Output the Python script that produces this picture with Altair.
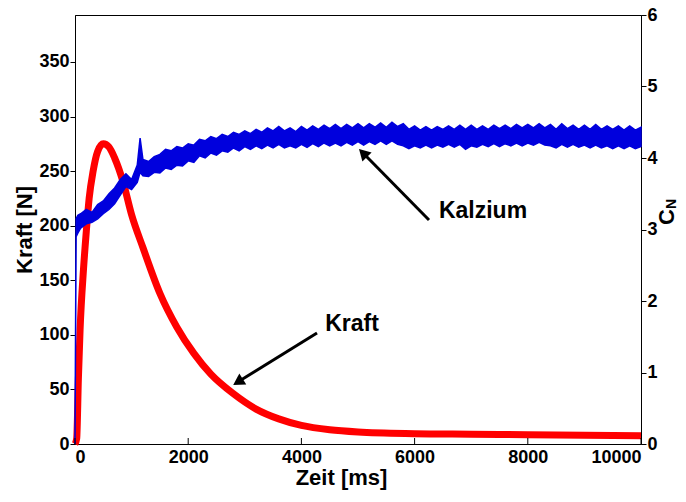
import altair as alt
import pandas as pd

# Kraft (left axis, N)
red_t = [0, 30, 60, 90, 150, 200, 250, 320, 400, 500, 600, 700, 850, 1000, 1200,
         1500, 1800, 2100, 2400, 2800, 3200, 3600, 4000, 4500, 5000, 6000, 7000,
         8000, 9000, 10000]
red_f = [0, 5, 60, 105, 160, 195, 225, 250, 268, 275, 272, 262, 240, 210, 180,
         138, 107, 83, 64, 46, 32, 23, 17, 13, 11, 9.5, 9, 8.5, 8, 7.5]

# Kalzium (right axis, C_N) as a band: lower / upper edge
blue_t = [0, 20, 50, 100, 200, 300, 400, 500, 600, 700, 800, 900, 1000, 1100, 1150,
          1200, 1300, 1400, 1500, 1600, 1700, 1800, 1900, 2000, 2100, 2200, 2300,
          2400, 2500, 2600, 2700, 2800, 2900, 3000, 3100, 3200, 3300, 3400, 3500,
          3600, 3700, 3800, 3900, 4000, 4100, 4200, 4300, 4400, 4500, 4600, 4700,
          4800, 4900, 5000, 5100, 5200, 5300, 5400, 5500, 5600, 5700, 5800, 5900,
          6000, 6100, 6200, 6300, 6400, 6500, 6600, 6700, 6800, 6900, 7000, 7100,
          7200, 7300, 7400, 7500, 7600, 7700, 7800, 7900, 8000, 8100, 8200, 8300,
          8400, 8500, 8600, 8700, 8800, 8900, 9000, 9100, 9200, 9300, 9400, 9500,
          9600, 9700, 9800, 9900, 10000]
blue_lo = [0.00, 2.90, 2.95, 3.02, 3.08, 3.10, 3.15, 3.22, 3.28, 3.36, 3.48, 3.60, 3.56, 3.66, 3.80,
           3.75, 3.74, 3.80, 3.79, 3.86, 3.84, 3.90, 3.89, 3.96, 3.94, 4.03, 4.00,
           4.07, 4.04, 4.10, 4.08, 4.14, 4.10, 4.16, 4.12, 4.17, 4.13, 4.18, 4.14,
           4.19, 4.14, 4.17, 4.14, 4.19, 4.15, 4.20, 4.16, 4.21, 4.17, 4.21, 4.17,
           4.22, 4.18, 4.23, 4.18, 4.23, 4.19, 4.24, 4.19, 4.24, 4.19, 4.17, 4.13,
           4.17, 4.14, 4.18, 4.14, 4.18, 4.15, 4.19, 4.15, 4.19, 4.12, 4.17, 4.15,
           4.19, 4.16, 4.20, 4.16, 4.20, 4.17, 4.21, 4.17, 4.21, 4.18, 4.22, 4.18,
           4.17, 4.14, 4.19, 4.15, 4.19, 4.15, 4.18, 4.14, 4.18, 4.14, 4.17, 4.13,
           4.17, 4.13, 4.17, 4.13, 4.16]
blue_hi = [0.05, 3.15, 3.20, 3.22, 3.28, 3.24, 3.35, 3.40, 3.50, 3.58, 3.70, 3.78, 3.70, 3.90, 4.28,
           3.98, 3.95, 4.02, 4.05, 4.12, 4.10, 4.16, 4.14, 4.20, 4.18, 4.26, 4.24,
           4.30, 4.27, 4.33, 4.30, 4.36, 4.33, 4.38, 4.34, 4.40, 4.36, 4.42, 4.38,
           4.44, 4.38, 4.42, 4.37, 4.44, 4.39, 4.45, 4.40, 4.46, 4.41, 4.47, 4.41,
           4.47, 4.42, 4.48, 4.42, 4.48, 4.43, 4.49, 4.43, 4.50, 4.44, 4.48, 4.40,
           4.45, 4.39, 4.44, 4.39, 4.44, 4.40, 4.45, 4.40, 4.46, 4.40, 4.46, 4.40,
           4.45, 4.40, 4.46, 4.41, 4.46, 4.41, 4.47, 4.42, 4.47, 4.42, 4.48, 4.42,
           4.47, 4.40, 4.48, 4.41, 4.46, 4.40, 4.46, 4.40, 4.47, 4.40, 4.45, 4.40,
           4.45, 4.39, 4.45, 4.39, 4.43]

x_ticks = [0, 2000, 4000, 6000, 8000, 10000]
left_ticks = [0, 50, 100, 150, 200, 250, 300, 350]
right_ticks = [0, 1, 2, 3, 4, 5, 6]

red_df = pd.DataFrame({"t": red_t, "f": red_f})
blue_df = pd.DataFrame({"t": blue_t, "lo": blue_lo, "hi": blue_hi})
tick_df = pd.DataFrame({"t": x_ticks})
one = pd.DataFrame({"a": [0]})

FONT = "Liberation Sans"

x_enc = alt.X("t:Q", scale=alt.Scale(domain=[0, 10000], nice=False),
              axis=alt.Axis(values=x_ticks, title="Zeit [ms]", tickSize=0,
                            labelPadding=4, titlePadding=1, titleX=266,
                            format="d"))

red = alt.Chart(red_df).mark_line(color="#ff0000", strokeWidth=7,
                                  interpolate="monotone").encode(
    x=x_enc,
    y=alt.Y("f:Q", scale=alt.Scale(domain=[0, 393], nice=False),
            axis=alt.Axis(values=left_ticks, title="Kraft [N]", orient="left",
                          tickSize=5, labelPadding=1, titlePadding=2)),
)

blue = alt.Chart(blue_df).mark_area(color="#0000dd", stroke="#0000dd",
                                    strokeWidth=1.5, opacity=1,
                                    strokeOpacity=1).encode(
    x=x_enc,
    y=alt.Y("lo:Q", scale=alt.Scale(domain=[0, 6], nice=False),
            axis=alt.Axis(values=right_ticks, orient="right", title=None,
                          tickSize=5, labelPadding=1)),
    y2="hi:Q",
)

inner_ticks = alt.Chart(tick_df).mark_rule(color="black", strokeWidth=1).encode(
    x=x_enc, y=alt.value(423), y2=alt.value(429)
)

def txt(s, x, y, size, angle=0):
    return alt.Chart(one).mark_text(text=s, font=FONT, fontWeight="bold",
                                    fontSize=size, align="center",
                                    baseline="middle", angle=angle,
                                    color="black").encode(
        x=alt.value(x), y=alt.value(y))

def rule(x1, y1, x2, y2):
    return alt.Chart(one).mark_rule(color="black", strokeWidth=3).encode(
        x=alt.value(x1), y=alt.value(y1), x2=alt.value(x2), y2=alt.value(y2))

def head(x, y, ang):
    return alt.Chart(one).mark_point(shape="triangle-up", filled=True,
                                     size=170, angle=ang, color="black",
                                     opacity=1).encode(
        x=alt.value(x), y=alt.value(y))

chart = alt.layer(
    red, blue, inner_ticks,
    rule(354, 205, 291, 141), head(288, 138, 315),
    rule(242, 318, 166, 365), head(163, 367, 238),
    txt("Kalzium", 408, 196, 23),
    txt("Kraft", 277, 309, 23),
    txt("C", 592, 202, 22, 270),
    txt("N", 597, 189, 14, 270),
).resolve_scale(y="independent").properties(
    width=566, height=429,
    padding={"left": 67, "top": 7, "right": 37, "bottom": 50},
    autosize=alt.AutoSizeParams(type="none"),
).configure_view(stroke="black", strokeWidth=1).configure_axis(
    labelFont=FONT, labelFontWeight="bold", labelFontSize=18, labelColor="black",
    titleFont=FONT, titleFontWeight="bold", titleFontSize=22, titleColor="black",
    domainColor="black", tickColor="black", grid=False,
)

chart.save("out.html", embed_options={"renderer": "svg", "actions": False})
